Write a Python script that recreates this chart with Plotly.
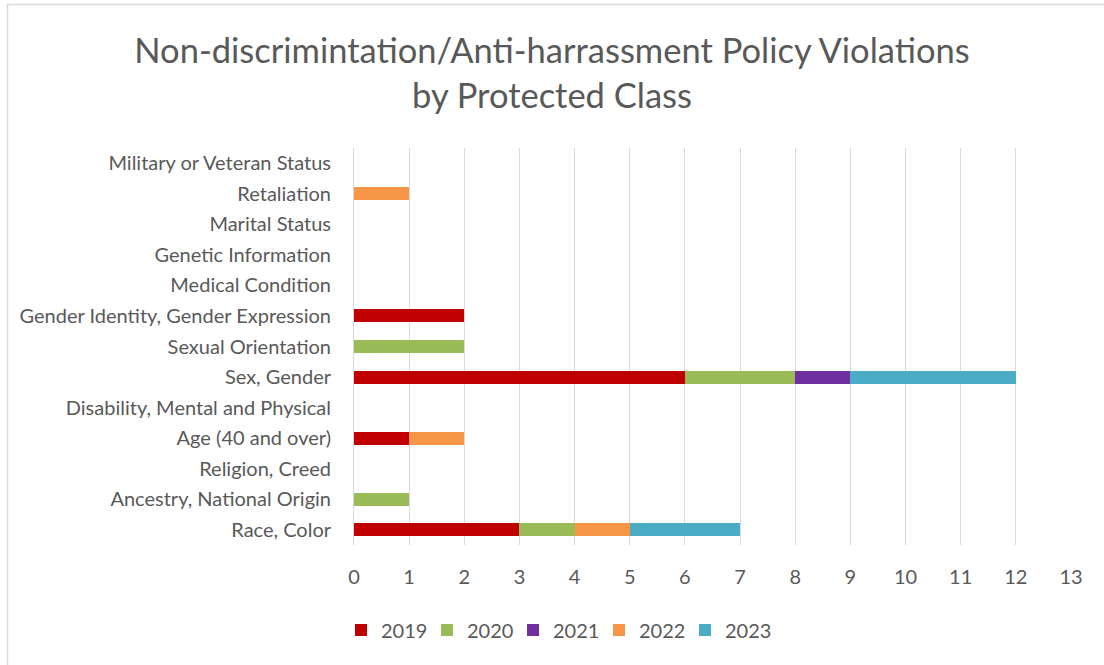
import plotly.graph_objects as go

categories = ["Race, Color", "Ancestry, National Origin", "Religion, Creed", "Age (40 and over)",
              "Disability, Mental and Physical", "Sex, Gender", "Sexual Orientation",
              "Gender Identity, Gender Expression", "Medical Condition", "Genetic Information",
              "Marital Status", "Retaliation", "Military or Veteran Status"]
years = ["2019", "2020", "2021", "2022", "2023"]
v2019 = [3, 0, 0, 1, 0, 6, 0, 2, 0, 0, 0, 0, 0]
v2020 = [1, 1, 0, 0, 0, 2, 2, 0, 0, 0, 0, 0, 0]
v2021 = [0, 0, 0, 0, 0, 1, 0, 0, 0, 0, 0, 0, 0]
v2022 = [1, 0, 0, 1, 0, 0, 0, 0, 0, 0, 0, 1, 0]
v2023 = [2, 0, 0, 0, 0, 3, 0, 0, 0, 0, 0, 0, 0]
series = [v2019, v2020, v2021, v2022, v2023]
colors = ["#C00000", "#9BBB59", "#7030A0", "#F79646", "#4BACC6"]
xticks = list(range(0, 14))

W, H = 1104, 665
ml, mr, mt, mb = 354, 33, 148, 120
FONT = "Lato, Open Sans, sans-serif"
GRAY = "#595959"

fig = go.Figure()
for y, vals, c in zip(years, series, colors):
    fig.add_trace(go.Bar(y=categories, x=vals, name=y, orientation="h",
                         marker=dict(color=c, line=dict(width=0))))

pw = W - ml - mr
ph = H - mt - mb
def px_x(p): return (p - ml) / pw
def px_y(p): return 1 - (p - mt) / ph

fig.update_layout(
    width=W, height=H, barmode="stack", bargap=0.575,
    margin=dict(l=ml, r=mr, t=mt, b=mb, autoexpand=False),
    paper_bgcolor="white", plot_bgcolor="white",
    font=dict(family=FONT, color=GRAY, size=20),
    title=dict(text="Non-discrimintation/Anti-harrassment Policy Violations<br>by Protected Class",
               x=0.5, xanchor="center", y=1 - 63 / H, yanchor="middle",
               font=dict(size=34.5, color=GRAY, family=FONT)),
    xaxis=dict(range=[0, 13], tickvals=xticks, showgrid=True, gridcolor="#D9D9D9", gridwidth=1,
               zeroline=False, showline=False, ticks="", ticklabelstandoff=18,
               tickfont=dict(size=20, color=GRAY)),
    yaxis=dict(categoryorder="array", categoryarray=categories, showgrid=False,
               showline=True, linecolor="#D9D9D9", linewidth=1, ticks="", ticklen=0,
               ticklabelstandoff=18, tickfont=dict(size=20, color=GRAY)),
    legend=dict(orientation="h", x=px_x(556), xanchor="center", y=px_y(630), yanchor="middle",
                font=dict(size=20, color=GRAY), itemwidth=30, traceorder="normal",
                entrywidth=41, entrywidthmode="pixels"),
    showlegend=True,
)
fig.add_shape(type="rect", xref="paper", yref="paper",
              x0=px_x(7.5), x1=px_x(1110), y0=px_y(670), y1=px_y(4.5),
              line=dict(color="#D9D9D9", width=1.5), fillcolor="rgba(0,0,0,0)", layer="below")
fig.write_html("out.html", config={"displayModeBar": False},
               post_script="document.body.style.margin='0';document.body.style.overflow='hidden';")
